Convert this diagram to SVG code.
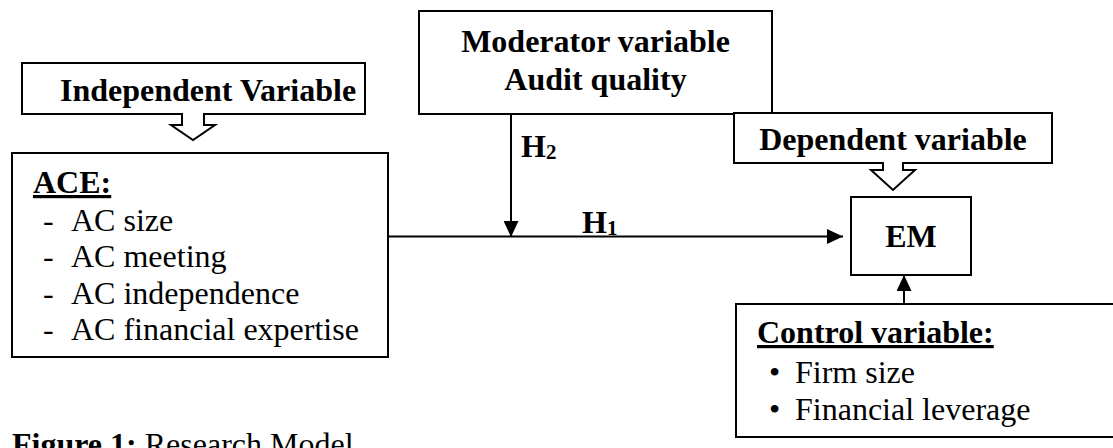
<svg xmlns="http://www.w3.org/2000/svg" width="1113" height="448" viewBox="0 0 1113 448">
<style>
.box{fill:#fff;stroke:#000;stroke-width:2}
.con{stroke:#000;stroke-width:2;fill:none}
.u{text-decoration:underline}
</style>
<defs>
<marker id="arr" markerUnits="userSpaceOnUse" markerWidth="16" markerHeight="15" refX="16" refY="7.5" orient="auto">
<path d="M0,0 L16,7.5 L0,15 Z" fill="#000"/>
</marker>
</defs>
<rect width="1113" height="448" fill="#fff"/>
<g id="connectors">
<line class="con" x1="388" y1="236.5" x2="843" y2="236.5" marker-end="url(#arr)"/>
<line class="con" x1="511" y1="114" x2="511" y2="237" marker-end="url(#arr)"/>
<line class="con" x1="904" y1="304" x2="904" y2="275" marker-end="url(#arr)"/>
</g>
<g font-family="Liberation Serif, Times New Roman, serif" font-size="32" fill="#000">
<g id="independent-label">
<path class="box" d="M22,63 H365 V114 H204 V125 H215 L193,140 L171,125 H182 V114 H22 Z"/>
<text font-weight="bold" x="60" y="101">Independent Variable</text>
</g>
<g id="moderator">
<rect class="box" x="419" y="11" width="353" height="103"/>
<text font-weight="bold" x="595.5" y="52" text-anchor="middle">Moderator variable</text>
<text font-weight="bold" x="595.5" y="89.5" text-anchor="middle">Audit quality</text>
</g>
<g id="dependent-label">
<path class="box" d="M734,113 H1052 V163 H903 V170 H915 L893,190 L871,170 H883 V163 H734 Z"/>
<text font-weight="bold" x="893" y="150" text-anchor="middle">Dependent variable</text>
</g>
<g id="ace">
<rect class="box" x="12" y="153" width="376" height="204"/>
<text class="u" font-weight="bold" x="33" y="193">ACE:</text>
<text x="43" y="230.5">-</text><text x="71" y="230.5">AC size</text>
<text x="43" y="267">-</text><text x="71" y="267">AC meeting</text>
<text x="43" y="303.5">-</text><text x="71" y="303.5">AC independence</text>
<text x="43" y="340">-</text><text x="71" y="340">AC financial expertise</text>
</g>
<g id="em">
<rect class="box" x="851" y="197" width="120" height="78"/>
<text font-weight="bold" x="911" y="246.5" text-anchor="middle">EM</text>
</g>
<g id="control">
<rect class="box" x="736" y="304" width="390" height="133"/>
<text class="u" font-weight="bold" x="757" y="343">Control variable:</text>
<text x="769" y="383">•</text><text x="795" y="383">Firm size</text>
<text x="769" y="420">•</text><text x="795" y="420">Financial leverage</text>
</g>
<g id="hypotheses" font-weight="bold">
<text x="521" y="156.5">H<tspan font-size="21" dy="2">2</tspan></text>
<text x="582" y="233">H<tspan font-size="21" dy="2">1</tspan></text>
</g>
<g id="caption">
<text x="12" y="455"><tspan font-weight="bold">Figure 1:</tspan> Research Model</text>
</g>
</g>
</svg>
